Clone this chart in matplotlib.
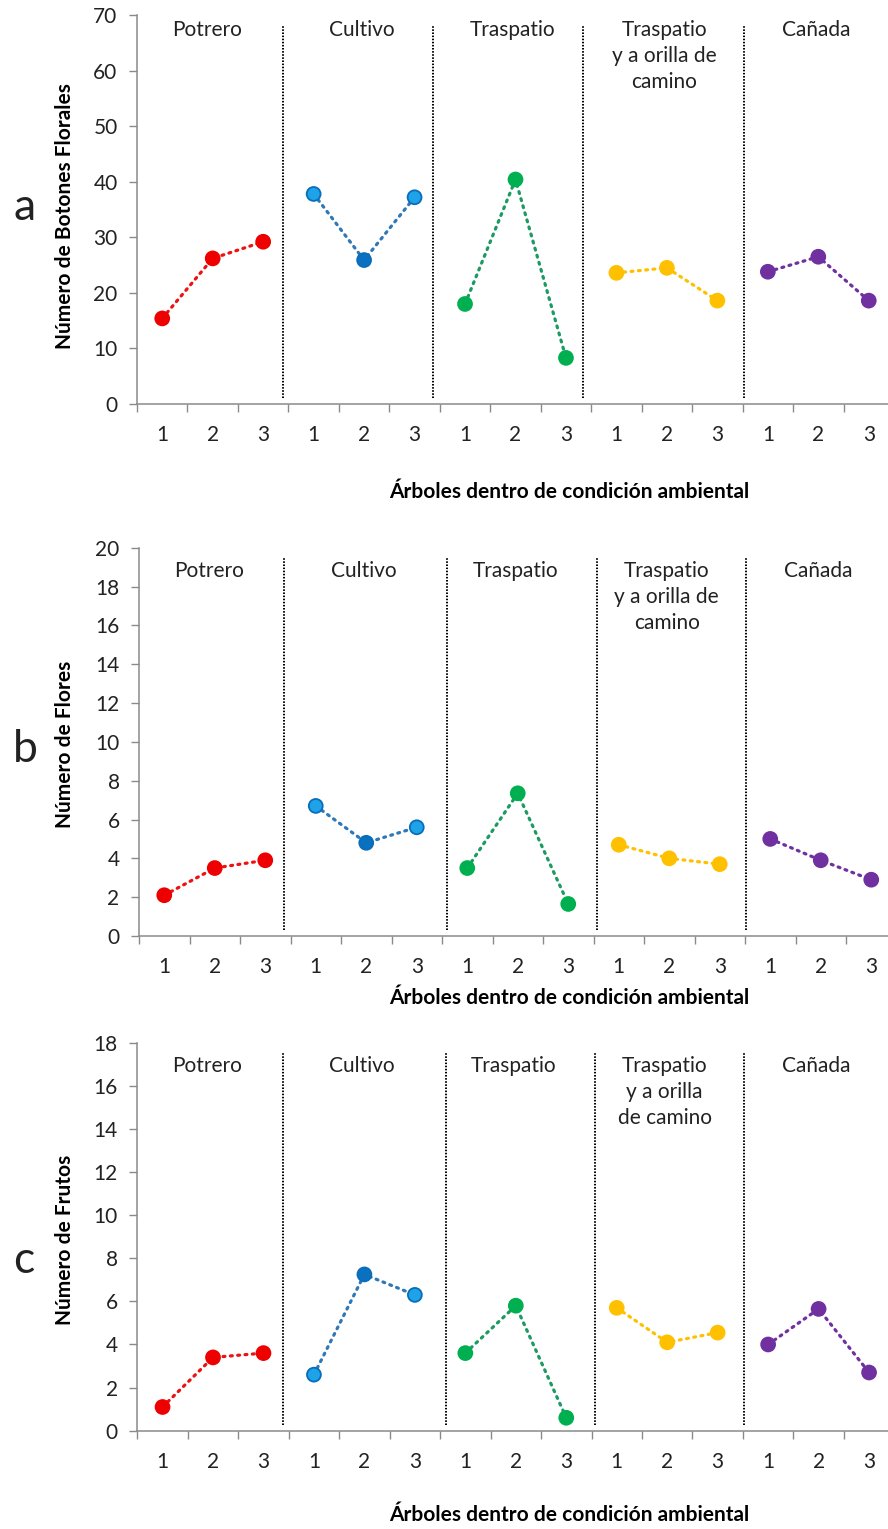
import matplotlib.pyplot as plt
import numpy as np

plt.rcParams['font.family'] = ['Lato', 'DejaVu Sans']

W, H = 888, 1529

groups = ["Potrero", "Cultivo", "Traspatio", "Traspatio\ny a orilla de\ncamino", "Cañada"]
groups_c = ["Potrero", "Cultivo", "Traspatio", "Traspatio\ny a orilla\nde camino", "Cañada"]
trees = ["1", "2", "3"] * 5

botones = [15.4, 26.2, 29.2, 37.8, 25.9, 37.2, 18.0, 40.4, 8.3,
           23.6, 24.5, 18.6, 23.8, 26.5, 18.6]
flores = [2.1, 3.5, 3.9, 6.7, 4.8, 5.6, 3.5, 7.35, 1.65,
          4.7, 4.0, 3.7, 5.0, 3.9, 2.9]
frutos = [1.1, 3.4, 3.6, 2.6, 7.25, 6.3, 3.6, 5.8, 0.6,
          5.7, 4.1, 4.55, 4.0, 5.65, 2.7]

# per group: line colour, marker faces (tree 1..3), marker edge
line_colors = ["#EE1111", "#2F78B8", "#1C9A62", "#FFC000", "#7030A0"]
face_colors = [["#EE0000"] * 3,
               ["#1EA2E8", "#0A70C0", "#1EA2E8"],
               ["#00B050"] * 3,
               ["#FFC000"] * 3,
               ["#7030A0"] * 3]
edge_colors = ["#EE0000", "#0A6DBA", "#00B050", "#FFC000", "#7030A0"]

gray = "#8A8A8A"
txt = "#222222"

panels = [
    dict(vals=botones, ylabel="Número de Botones Florales", ymax=70, step=10,
         letter="a", rect=(137, 15, 757, 389), names=groups,
         divs=[3.39, 6.37, 9.34, 12.53], lab_off=15, ylab_y=216,
         letter_y=220, xlab_y=492),
    dict(vals=flores, ylabel="Número de Flores", ymax=20, step=2,
         letter="b", rect=(139, 547.7, 757.5, 388.3), names=groups,
         divs=[3.37, 6.59, 9.56, 12.51], lab_off=23, ylab_y=744,
         letter_y=762, xlab_y=998),
    dict(vals=frutos, ylabel="Número de Frutos", ymax=18, step=2,
         letter="c", rect=(137.3, 1042.7, 757, 388), names=groups_c,
         divs=[3.38, 6.61, 9.56, 12.53], lab_off=23, ylab_y=1240,
         letter_y=1273, xlab_y=1515),
]

fig = plt.figure(figsize=(W / 100, H / 100), dpi=100)
x = np.arange(1, 16)

for p in panels:
    left, top, wid, hgt = p["rect"]
    ax = fig.add_axes([left / W, 1 - (top + hgt) / H, wid / W, hgt / H])
    vals = np.array(p["vals"])

    for g in range(5):
        s = slice(3 * g, 3 * g + 3)
        ax.plot(x[s], vals[s], ls=(0, (0.6, 1.7)), lw=2.3, color=line_colors[g],
                dash_capstyle="round", zorder=2)
        ax.scatter(x[s], vals[s], s=100, c=face_colors[g], edgecolors=edge_colors[g],
                   linewidths=1.3, zorder=3)

    ymax = p["ymax"]
    for xd in p["divs"]:
        ax.axvline(xd, ymin=0.015, ymax=0.975, color="black", lw=1.4,
                   ls=(0, (0.8, 0.8)), zorder=1)

    # group names at the top of each block
    for g, name in enumerate(p["names"]):
        xc = 3 * g + 2 - (0.12 if g == 0 else 0.05)
        for i, line in enumerate(name.split("\n")):
            yf = 1 - (p["lab_off"] + i * 26) / hgt
            ax.text(xc, yf, line, transform=ax.get_xaxis_transform(),
                    ha="center", va="center", fontsize=15, color=txt)

    ax.set_xlim(0.5, 15.5)
    ax.set_ylim(0, ymax)
    ax.set_yticks(np.arange(0, ymax + 1, p["step"]))
    ax.set_xticks(np.arange(0.5, 16, 1))
    ax.set_xticks(x, minor=True)
    ax.set_xticklabels(trees, minor=True)
    ax.tick_params(axis="x", which="major", length=6, width=1, color=gray,
                   labelbottom=False)
    ax.tick_params(axis="x", which="minor", length=0, pad=15, labelsize=15,
                   labelcolor=txt)
    ax.tick_params(axis="y", length=6, width=1, color=gray, pad=8,
                   labelsize=15, labelcolor=txt)
    for side in ["top", "right"]:
        ax.spines[side].set_visible(False)
    for side in ["left", "bottom"]:
        ax.spines[side].set_color(gray)
        ax.spines[side].set_linewidth(1.1)

    fig.text(65 / W, 1 - p["ylab_y"] / H, p["ylabel"], rotation=90,
             ha="center", va="center", fontsize=15, fontweight="bold", color="black")
    fig.text(13 / W, 1 - p["letter_y"] / H, p["letter"], ha="left",
             va="baseline", fontsize=32, color=txt)
    fig.text(569 / W, 1 - p["xlab_y"] / H, "Árboles dentro de condición ambiental",
             ha="center", va="center", fontsize=15, fontweight="bold", color="black")

fig.savefig("out.png", dpi=100, facecolor="white")
